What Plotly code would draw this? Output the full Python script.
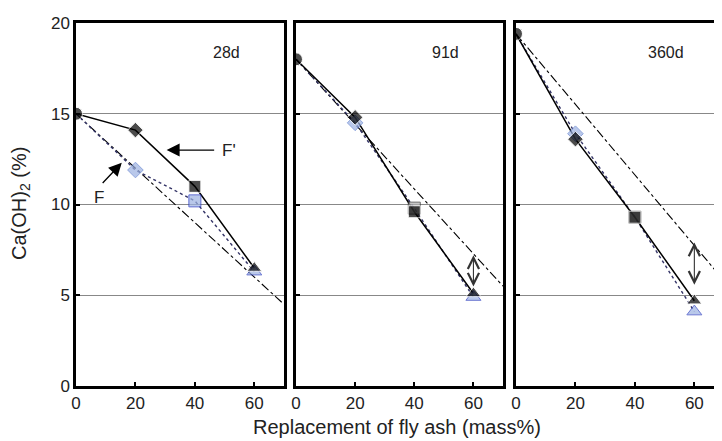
import plotly.graph_objects as go

x_vals = [0, 20, 40, 60]
ages = ["28d", "91d", "360d"]

# F' series (solid line, black markers)
fprime_28 = [15.0, 14.1, 11.0, 6.5]
fprime_91 = [18.0, 14.8, 9.6, 5.1]
fprime_360 = [19.4, 13.6, 9.3, 4.7]

# F series (dotted line, light-blue markers)
f_28 = [15.0, 11.9, 10.2, 6.3]
f_91 = [18.0, 14.5, 9.8, 4.9]
f_360 = [19.4, 13.9, 9.3, 4.1]

# dilution (dash-dot) reference line end points
dil_x = [0, 70]
dil_28 = [15.0, 4.5]
dil_91 = [18.0, 5.5]
dil_360 = [19.4, 5.8]

# double-arrow spans at 60 % (top, bottom)
gap_91 = [7.2, 5.4]
gap_360 = [7.9, 5.5]

fprime = [fprime_28, fprime_91, fprime_360]
fser = [f_28, f_91, f_360]
dil = [dil_28, dil_91, dil_360]
gaps = [None, gap_91, gap_360]

# page body adds an 8px margin; figure is sized to fit the window
OFF = 8
W, H = 722 - OFF, 441 - OFF
ml, mt = 76 - OFF, 23 - OFF
bottom = 386 - OFF
mb = H - bottom
pw = W - ml
ph = H - mt - mb
domains = [[0, 208 / pw], [(296 - 76) / pw, (503 - 76) / pw], [(516 - 76) / pw, 1.0]]
xranges = [[0, 70], [0, 70], [0, 69.3]]

fig = go.Figure()
symbols = ["circle", "diamond", "square", "triangle-up"]
sizes = [13, 12, 12, 13]
lightblue = "#9cb2e2"

for i in range(3):
    xa = "x" if i == 0 else f"x{i+1}"
    ya = "y" if i == 0 else f"y{i+1}"
    fig.add_trace(go.Scatter(x=dil_x, y=dil[i], mode="lines", xaxis=xa, yaxis=ya,
                             line=dict(color="black", width=1.1, dash="dashdot"),
                             showlegend=False, hoverinfo="skip"))
    fig.add_trace(go.Scatter(x=x_vals, y=fser[i], mode="lines", xaxis=xa, yaxis=ya,
                             line=dict(color="#333366", width=1.4, dash="dot"),
                             showlegend=False))
    fig.add_trace(go.Scatter(x=x_vals, y=fprime[i], mode="lines", xaxis=xa, yaxis=ya,
                             line=dict(color="black", width=1.5),
                             showlegend=False))
    fcolors = [lightblue, lightblue, lightblue if i == 0 else "#b0b0b0", lightblue]
    fline = ["#3040c0", "#6080d0", "#2030c0" if i == 0 else "#333333", "#3040c0"]
    fig.add_trace(go.Scatter(x=x_vals[1:], y=fser[i][1:], mode="markers", xaxis=xa, yaxis=ya,
                             marker=dict(symbol=symbols[1:], size=sizes[1:], color=fcolors[1:],
                                         line=dict(color=fline[1:], width=1)),
                             showlegend=False))
    fig.add_trace(go.Scatter(x=x_vals, y=fprime[i], mode="markers", xaxis=xa, yaxis=ya,
                             marker=dict(symbol=symbols, size=sizes, color="black"),
                             showlegend=False))

layout = dict(width=W, height=H, margin=dict(l=ml, r=0, t=mt, b=mb, autoexpand=False),
              plot_bgcolor="white", paper_bgcolor="white",
              font=dict(family="Liberation Sans, Arial", size=17, color="#222"))

for i in range(3):
    xk = "xaxis" if i == 0 else f"xaxis{i+1}"
    yk = "yaxis" if i == 0 else f"yaxis{i+1}"
    layout[xk] = dict(domain=domains[i], range=xranges[i], tickvals=[0, 20, 40, 60],
                      ticks="inside", ticklen=4, tickwidth=1.5, tickcolor="black",
                      showline=True, linecolor="black", linewidth=2.5, mirror=True,
                      showgrid=False, zeroline=False, anchor="y" if i == 0 else f"y{i+1}",
                      automargin=False, tickfont=dict(size=17))
    layout[yk] = dict(domain=[0, 1], range=[0, 20], tickvals=[0, 5, 10, 15, 20],
                      ticks="inside", ticklen=4, tickwidth=1.5, tickcolor="black",
                      showline=True, linecolor="black", linewidth=2.5,
                      mirror=True if i < 2 else False,
                      showgrid=True, gridcolor="#888", gridwidth=1,
                      zeroline=False, showticklabels=(i == 0),
                      anchor="x" if i == 0 else f"x{i+1}",
                      automargin=False, tickfont=dict(size=17))

fig.update_layout(**layout)

anns = []
for i, age in enumerate(ages):
    xa = "x" if i == 0 else f"x{i+1}"
    ya = "y" if i == 0 else f"y{i+1}"
    anns.append(dict(x=50.5, y=18.4, xref=xa, yref=ya, text=age, showarrow=False,
                     font=dict(size=16, color="#222")))

anns.append(dict(x=30.5, y=13.0, ax=47, ay=13.0, xref="x", yref="y", axref="x", ayref="y",
                 text="", showarrow=True, arrowhead=2, arrowsize=2, arrowwidth=1.3, arrowcolor="black"))
anns.append(dict(x=51.5, y=13.0, xref="x", yref="y", text="F'", showarrow=False,
                 font=dict(size=17, color="#222")))
anns.append(dict(x=15.4, y=12.3, ax=8.5, ay=11.1, xref="x", yref="y", axref="x", ayref="y",
                 text="", showarrow=True, arrowhead=2, arrowsize=2, arrowwidth=1.3, arrowcolor="black"))
anns.append(dict(x=7.7, y=10.4, xref="x", yref="y", text="F", showarrow=False,
                 font=dict(size=17, color="#222")))

for i in (1, 2):
    xa = f"x{i+1}"
    ya = f"y{i+1}"
    anns.append(dict(x=60, y=gaps[i][0], ax=60, ay=gaps[i][1], xref=xa, yref=ya, axref=xa, ayref=ya,
                     text="", showarrow=True, arrowhead=5, arrowside="end+start",
                     arrowsize=2.0, arrowwidth=1.1, arrowcolor="#333"))

anns.append(dict(x=(397 - 76) / pw, y=-(427 - 386) / ph, xref="paper", yref="paper",
                 text="Replacement of fly ash (mass%)", showarrow=False,
                 font=dict(size=20, color="#222"), xanchor="center", yanchor="middle"))
anns.append(dict(x=(20 - 76) / pw, y=(386 - 204) / ph, xref="paper", yref="paper",
                 text="Ca(OH)<sub>2</sub> (%)", showarrow=False, textangle=-90,
                 font=dict(size=20, color="#222"), xanchor="center", yanchor="middle"))
fig.update_layout(annotations=anns)

fig.write_html("out.html")
